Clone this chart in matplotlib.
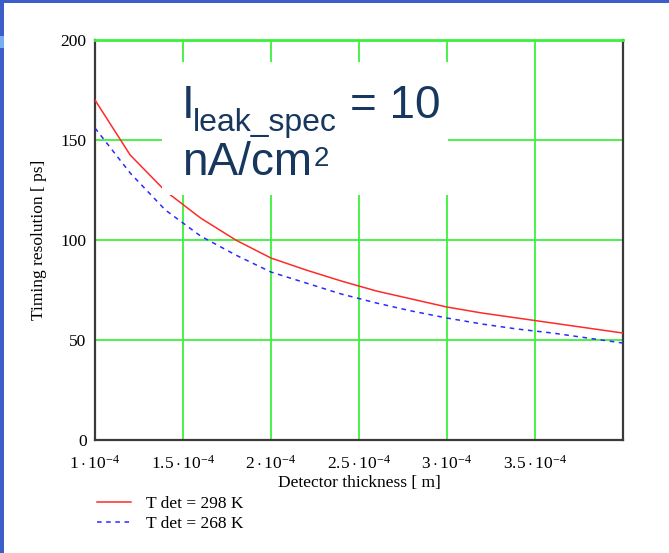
import numpy as np
import matplotlib
matplotlib.use('Agg')
import matplotlib.pyplot as plt
from matplotlib.patches import Rectangle

# detector thickness [m], Mathcad sampling every 0.2e-4
thickness = [1.0e-4, 1.2e-4, 1.4e-4, 1.6e-4, 1.8e-4, 2.0e-4, 2.2e-4, 2.4e-4,
             2.6e-4, 2.8e-4, 3.0e-4, 3.2e-4, 3.4e-4, 3.6e-4, 3.8e-4, 4.0e-4]
res_298 = [170, 142.5, 124.5, 111, 100, 91, 85, 79.5,
           74.5, 70.5, 66.5, 63.5, 61, 58.5, 56, 53.5]
res_268 = [156, 133.5, 115, 102, 92.5, 84, 78.5, 73,
           68.5, 64.5, 61, 58, 55.5, 53.5, 51, 48.5]

x_ticks = [1e-4, 1.5e-4, 2e-4, 2.5e-4, 3e-4, 3.5e-4]
x_tick_labels = [r'$1\cdot10^{-4}$', r'$1.5\cdot10^{-4}$', r'$2\cdot10^{-4}$',
                 r'$2.5\cdot10^{-4}$', r'$3\cdot10^{-4}$', r'$3.5\cdot10^{-4}$']
y_ticks = [0, 50, 100, 150, 200]

plt.rcParams['font.family'] = ['Liberation Serif', 'DejaVu Serif']
plt.rcParams['mathtext.fontset'] = 'custom'
plt.rcParams['mathtext.rm'] = 'Liberation Serif'
plt.rcParams['mathtext.it'] = 'Liberation Serif'

fig = plt.figure(figsize=(6.69, 5.53), dpi=100)
ax = fig.add_axes([0.142, 0.2043, 0.789, 0.7233])

grid_green = '#3CF03C'
ax.set_xlim(1e-4, 4e-4)
ax.set_ylim(0, 200)
ax.set_xticks(x_ticks)
ax.set_xticklabels(x_tick_labels)
ax.set_yticks(y_ticks)
ax.tick_params(length=0, labelsize=12.5, pad=6)
ax.tick_params(axis='x', pad=11)
ax.grid(True, color=grid_green, lw=1.3)
ax.set_axisbelow(True)
for s in ax.spines.values():
    s.set_color('#3a3a3a')
    s.set_linewidth(1.6)
ax.spines['top'].set_color(grid_green)
ax.spines['top'].set_linewidth(2)

ax.plot(thickness, res_298, color='#FF2A2A', lw=1.1, label='T det = 298 K', zorder=3)
ax.plot(thickness, res_268, color='#2A2AFF', lw=1.1, ls=(0, (3, 3)),
        label='T det = 268 K', zorder=3)

ax.set_xlabel('Detector thickness [ m]', fontsize=12.5, labelpad=1)
ax.set_ylabel('Timing resolution [ ps]', fontsize=12.5, labelpad=10)

# white box behind the annotation
ax.add_patch(Rectangle((1.38e-4, 122.5), 1.626e-4, 66.5, facecolor='white',
                       edgecolor='none', zorder=4))
txt_color = '#17375E'
sans = ['Liberation Sans', 'DejaVu Sans']
ax.text(1.494e-4, 161, 'I', fontsize=33, color=txt_color, family=sans, zorder=5)
ax.text(1.557e-4, 154.5, 'leak_spec', fontsize=23, color=txt_color, family=sans, zorder=5)
ax.text(2.45e-4, 161, '= 10', fontsize=33, color=txt_color, family=sans, zorder=5)
ax.text(1.494e-4, 132.5, 'nA/cm', fontsize=33, color=txt_color, family=sans, zorder=5)
ax.text(2.245e-4, 137, '2', fontsize=20, color=txt_color, family=sans, zorder=5)

ax.legend(loc='upper left', bbox_to_anchor=(0.003, -0.14), frameon=False,
          fontsize=12.5, handlelength=2.0, handletextpad=0.85, labelspacing=0.22,
          borderpad=0, borderaxespad=0)

# slide frame edges
frame_blue = '#3D5EC9'
fig.patches.append(Rectangle((0, 1 - 3 / 553), 1, 3 / 553, transform=fig.transFigure,
                             facecolor=frame_blue, edgecolor='none'))
fig.patches.append(Rectangle((0, 0), 4 / 669, 1, transform=fig.transFigure,
                             facecolor=frame_blue, edgecolor='none'))
fig.patches.append(Rectangle((0, 1 - 48 / 553), 4 / 669, 12 / 553, transform=fig.transFigure,
                             facecolor='#78AEF0', edgecolor='none'))

plt.savefig('out.png', dpi=100)
